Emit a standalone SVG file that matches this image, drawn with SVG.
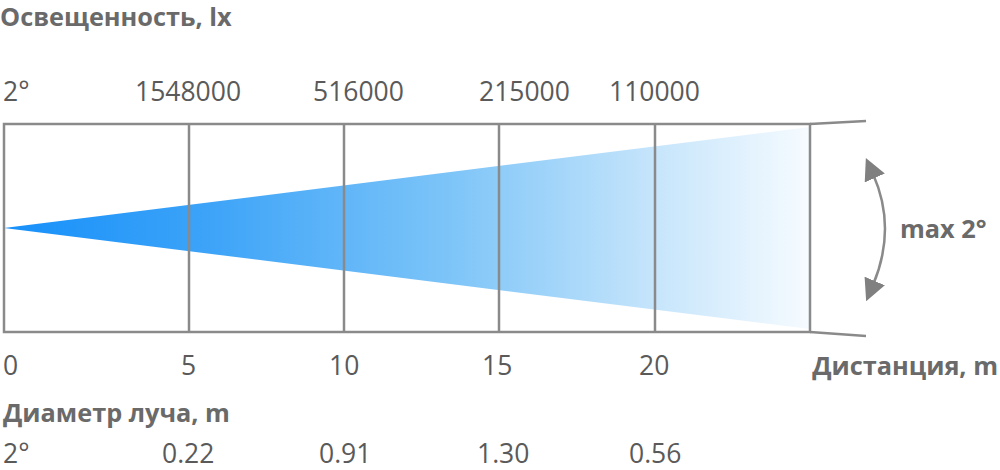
<svg xmlns="http://www.w3.org/2000/svg" width="1000" height="470" viewBox="0 0 1000 470">
<defs>
<linearGradient id="beam" x1="4" y1="0" x2="810" y2="0" gradientUnits="userSpaceOnUse">
<stop offset="0" stop-color="#1690fa"/>
<stop offset="0.25" stop-color="#3ca3f8"/>
<stop offset="0.55" stop-color="#7cc4f8"/>
<stop offset="0.8" stop-color="#c4e4fb"/>
<stop offset="1" stop-color="#f6fbff"/>
</linearGradient>
<marker id="ah2" viewBox="0 0 10 10" refX="2" refY="5" markerWidth="22" markerHeight="22" markerUnits="userSpaceOnUse" orient="auto-start-reverse">
<path d="M0,0 L10,5 L0,10 z" fill="#808080"/>
</marker>
</defs>
<style>
.ln{stroke:#8a8a8a;stroke-width:2.5;fill:none}
.t{font-family:"Open Sans","Noto Sans",sans-serif;font-size:26.5px;fill:#5a5a5a}
.b{font-family:"Open Sans","Noto Sans",sans-serif;font-size:25.3px;font-weight:bold;fill:#6a6a6a}
</style>
<rect width="1000" height="470" fill="#fff"/>
<g id="beam-shape">
<polygon points="4,228 810,127 810,329" fill="url(#beam)"/>
</g>
<g id="grid">
<rect x="4" y="124" width="806" height="208" class="ln"/>
<line x1="189" y1="124" x2="189" y2="332" class="ln"/>
<line x1="344" y1="124" x2="344" y2="332" class="ln"/>
<line x1="499" y1="124" x2="499" y2="332" class="ln"/>
<line x1="655" y1="124" x2="655" y2="332" class="ln"/>
<line x1="810" y1="124" x2="866" y2="121" class="ln"/>
<line x1="810" y1="332" x2="866" y2="336" class="ln"/>
</g>
<g id="connectors">
<path d="M873,174 Q897,228 873,285" class="ln" marker-start="url(#ah2)" marker-end="url(#ah2)"/>
</g>
<g id="angle-label">
<text x="900" y="238" class="b">max 2°</text>
</g>
<g id="lux-labels">
<text x="0" y="26" class="b">Освещенность, lx</text>
<text x="3" y="101" class="t">2°</text>
<text x="135" y="101" class="t">1548000</text>
<text x="313" y="101" class="t">516000</text>
<text x="479" y="101" class="t">215000</text>
<text x="609" y="101" class="t">110000</text>
</g>
<g id="distance-labels">
<text x="3" y="375" class="t">0</text>
<text x="181" y="375" class="t">5</text>
<text x="329" y="375" class="t">10</text>
<text x="482" y="375" class="t">15</text>
<text x="639" y="375" class="t">20</text>
<text x="998" y="375" class="b" text-anchor="end">Дистанция, m</text>
</g>
<g id="diameter-labels">
<text x="3" y="422" class="b">Диаметр луча, m</text>
<text x="3" y="463" class="t">2°</text>
<text x="162" y="463" class="t">0.22</text>
<text x="319" y="463" class="t">0.91</text>
<text x="477" y="463" class="t">1.30</text>
<text x="629" y="463" class="t">0.56</text>
</g>
</svg>
